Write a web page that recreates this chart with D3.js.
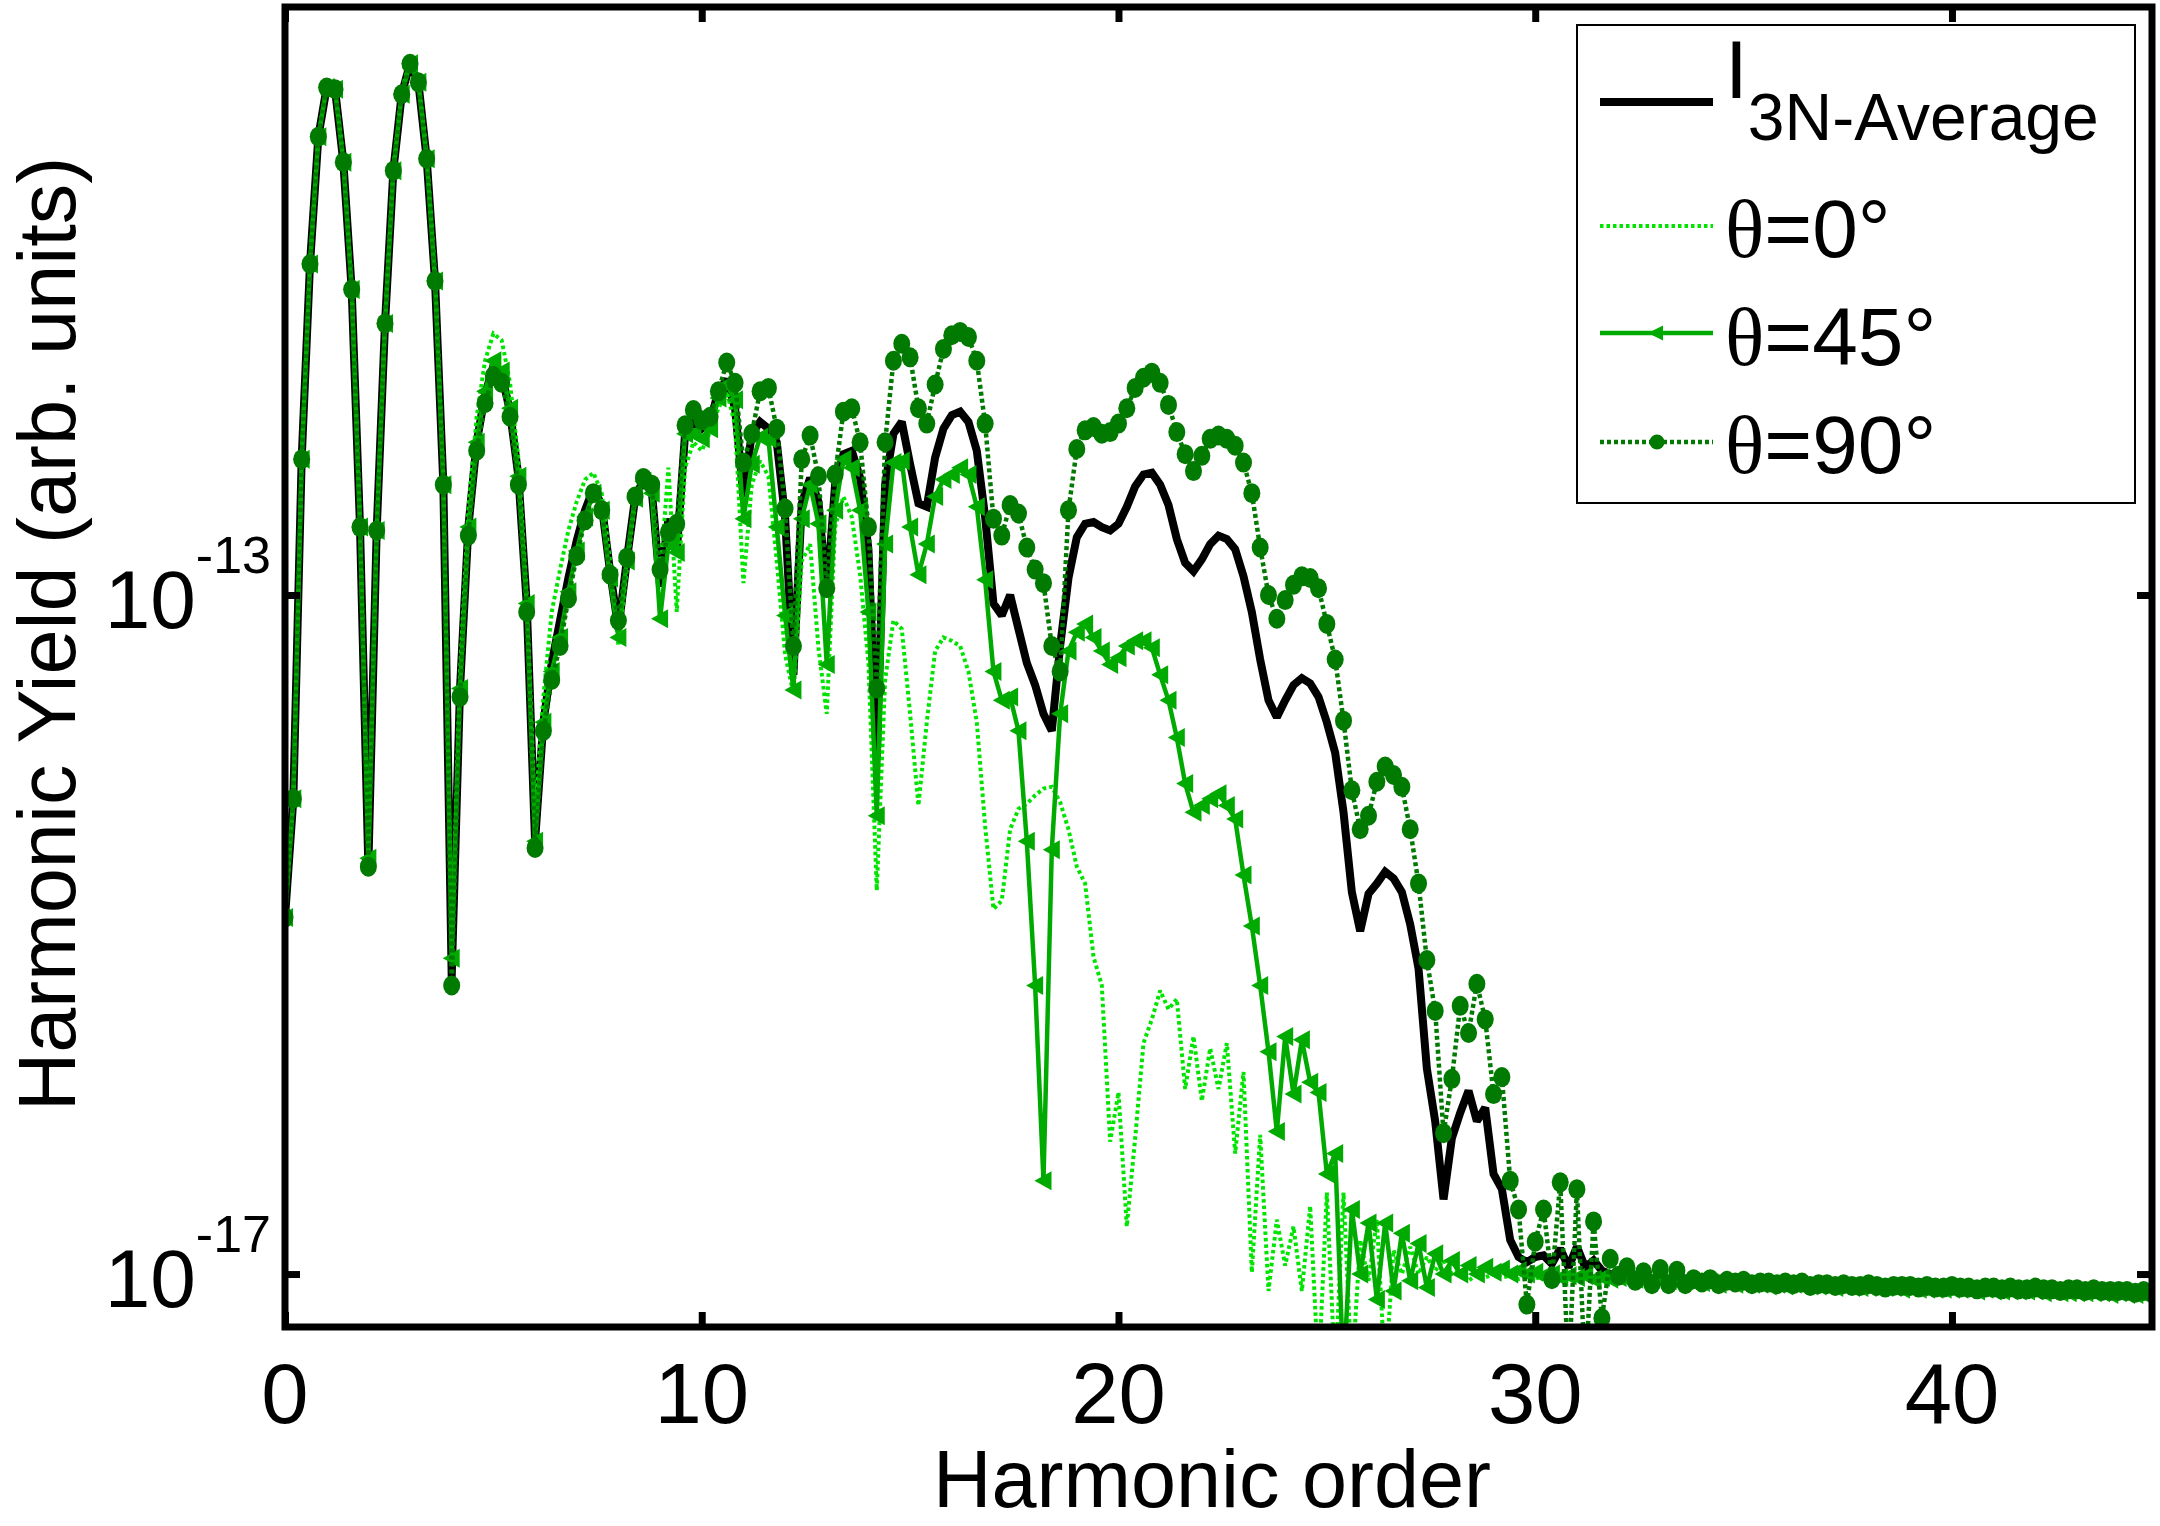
<!DOCTYPE html>
<html><head><meta charset="utf-8">
<script src="https://cdn.jsdelivr.net/npm/d3@7"></script>
<style>body{margin:0;background:#fff}svg{display:block}</style>
</head><body>
<svg id="chart" width="2160" height="1526"></svg>
<script>
// ---------------- data ----------------
const harmonicStep = 0.2;            // sampling of the harmonic-order axis
const xTickValues = [0, 10, 20, 30, 40];
const yTickExponents = [-13, -17];
const legendLabels = ["I", "θ=0°", "θ=45°", "θ=90°"];

// log10 of harmonic yield, one row per harmonic order (k.0, k.2, k.4, k.6, k.8)
const logYield90 = [
 -14.9,-14.2,-12.2,-11.05,-10.3,
 -10.01,-10.02,-10.45,-11.2,-12.6,
 -14.6,-12.62,-11.4,-10.5,-10.05,
 -9.87,-9.98,-10.43,-11.15,-12.35,
 -15.3,-13.6,-12.65,-12.15,-11.87,
 -11.71,-11.75,-11.95,-12.35,-13.1,
 -14.49,-13.8,-13.5,-13.3,-13.02,
 -12.77,-12.56,-12.40,-12.5,-12.88,
 -13.15,-12.78,-12.42,-12.31,-12.35,
 -12.85,-12.63,-12.58,-12.0,-11.91,
 -11.97,-11.95,-11.8,-11.63,-11.75,
 -12.22,-12.05,-11.8,-11.78,-12.02,
 -12.49,-13.3,-12.2,-12.06,-12.3,
 -12.96,-12.29,-11.92,-11.9,-12.1,
 -12.6,-13.55,-12.1,-11.62,-11.52,
 -11.6,-11.9,-11.99,-11.76,-11.55,
 -11.47,-11.45,-11.48,-11.62,-11.99,
 -12.55,-12.65,-12.47,-12.52,-12.72,
 -12.85,-12.93,-13.3,-13.45,-12.5,
 -12.14,-12.03,-12.01,-12.05,-12.04,
 -11.99,-11.9,-11.78,-11.72,-11.69,
 -11.75,-11.88,-12.04,-12.17,-12.27,
 -12.18,-12.08,-12.06,-12.08,-12.12,
 -12.22,-12.4,-12.72,-13.0,-13.14,
 -13.03,-12.94,-12.89,-12.9,-12.96,
 -13.17,-13.38,-13.74,-14.15,-14.38,
 -14.3,-14.1,-14.01,-14.06,-14.13,
 -14.38,-14.7,-15.15,-15.45,-16.17,
 -15.85,-15.42,-15.58,-15.29,-15.5,
 -15.94,-15.84,-16.45,-16.62,-17.18,
 -16.81,-16.62,-17.03,-16.46,-17.6,
 -16.5,-17.6,-16.69,-17.26,-16.91,
 -17.01,-16.96,-17.04,-16.99,-17.06,
 -16.97,-17.06,-16.98,-17.06,-17.03,
 -17.05,-17.03,-17.06,-17.04,-17.05,
 -17.04,-17.06,-17.05,-17.05,-17.06,
 -17.05,-17.06,-17.05,-17.07,-17.06,
 -17.06,-17.07,-17.06,-17.07,-17.07,
 -17.06,-17.07,-17.08,-17.07,-17.07,
 -17.07,-17.08,-17.07,-17.08,-17.08,
 -17.07,-17.08,-17.08,-17.09,-17.08,
 -17.08,-17.09,-17.08,-17.09,-17.09,
 -17.08,-17.09,-17.09,-17.10,-17.09,
 -17.09,-17.10,-17.09,-17.10,-17.10,
 -17.10,-17.10,-17.11,-17.10,-17.11
];

// tail (orders 32.0 - 44.8) where the other curves merge into one band
const convergedTail = [
 -17.02,-17.03,-17.03,-17.04,-17.03,
 -17.04,-17.04,-17.05,-17.04,-17.05,
 -17.05,-17.05,-17.06,-17.05,-17.06,
 -17.06,-17.06,-17.06,-17.07,-17.06,
 -17.07,-17.06,-17.07,-17.07,-17.07,
 -17.07,-17.08,-17.07,-17.08,-17.08,
 -17.08,-17.08,-17.08,-17.08,-17.09,
 -17.08,-17.09,-17.09,-17.09,-17.09,
 -17.09,-17.09,-17.09,-17.10,-17.09,
 -17.10,-17.10,-17.10,-17.10,-17.10,
 -17.10,-17.11,-17.10,-17.11,-17.11,
 -17.11,-17.11,-17.11,-17.11,-17.12,
 -17.11,-17.12,-17.12,-17.12,-17.12
];

const logYield45Head = [
 -14.9,-14.2,-12.2,-11.05,-10.3,
 -10.01,-10.02,-10.45,-11.2,-12.6,
 -14.55,-12.62,-11.4,-10.5,-10.05,
 -9.87,-9.98,-10.43,-11.15,-12.35,
 -15.14,-13.55,-12.6,-12.1,-11.8,
 -11.62,-11.68,-11.9,-12.3,-13.05,
 -14.45,-13.75,-13.45,-13.25,-12.98,
 -12.74,-12.54,-12.40,-12.5,-12.9,
 -13.25,-12.8,-12.43,-12.33,-12.4,
 -13.14,-12.7,-12.75,-12.05,-12.05,
 -12.08,-12.02,-11.84,-11.76,-11.85,
 -12.55,-12.23,-12.07,-12.08,-12.6,
 -13.12,-13.56,-12.55,-12.35,-12.58,
 -13.41,-12.50,-12.2,-12.25,-12.5,
 -13.1,-14.30,-12.7,-12.22,-12.21,
 -12.6,-12.88,-12.7,-12.42,-12.32,
 -12.29,-12.25,-12.29,-12.48,-12.91,
 -13.45,-13.62,-13.6,-13.8,-14.45,
 -15.3,-16.45,-14.5,-13.7,-13.33,
 -13.22,-13.17,-13.25,-13.33,-13.41,
 -13.37,-13.3,-13.27,-13.27,-13.31,
 -13.47,-13.62,-13.84,-14.11,-14.28,
 -14.24,-14.2,-14.17,-14.24,-14.32,
 -14.65,-14.95,-15.3,-15.69,-16.16,
 -15.6,-15.94,-15.62,-15.87,-15.93,
 -16.41,-16.29,-17.6,-16.62,-17.0,
 -16.7,-17.15,-16.70,-17.1,-16.76,
 -17.04,-16.82,-17.08,-16.88,-17.0,
 -16.92,-17.0,-16.95,-17.0,-16.96,
 -16.99,-16.97,-17.0,-16.98,-17.0,
 -16.99,-17.01,-17.0,-17.02,-17.01,
 -17.02,-17.01,-17.03,-17.02,-17.03
];

const logYield0Head = [
 -14.9,-14.2,-12.2,-11.05,-10.3,
 -10.0,-10.0,-10.43,-11.18,-12.55,
 -14.55,-12.6,-11.38,-10.48,-10.03,
 -9.85,-9.96,-10.4,-11.1,-12.3,
 -15.1,-13.45,-12.5,-11.95,-11.62,
 -11.46,-11.5,-11.75,-12.2,-13.0,
 -14.3,-13.6,-13.1,-12.85,-12.62,
 -12.45,-12.32,-12.28,-12.4,-12.8,
 -13.3,-12.85,-12.45,-12.3,-12.4,
 -12.9,-12.25,-13.1,-12.25,-12.1,
 -12.15,-12.04,-11.9,-11.8,-12.0,
 -12.93,-12.35,-12.21,-12.3,-12.8,
 -13.35,-13.58,-12.8,-12.7,-13.31,
 -13.70,-12.6,-12.42,-12.54,-12.88,
 -13.4,-14.74,-13.5,-13.15,-13.2,
 -13.7,-14.24,-13.75,-13.33,-13.25,
 -13.27,-13.3,-13.45,-13.75,-14.36,
 -14.85,-14.8,-14.38,-14.26,-14.23,
 -14.18,-14.14,-14.13,-14.22,-14.38,
 -14.6,-14.7,-15.13,-15.3,-16.22,
 -15.93,-16.72,-16.2,-15.64,-15.5,
 -15.33,-15.44,-15.38,-15.91,-15.6,
 -15.98,-15.67,-15.91,-15.64,-16.29,
 -15.81,-16.99,-16.18,-17.10,-16.68,
 -16.95,-16.72,-17.10,-16.6,-17.6,
 -16.52,-17.6,-16.52,-17.6,-16.8,
 -17.04,-16.68,-17.6,-16.86,-17.0,
 -16.84,-17.0,-16.9,-16.98,-16.92,
 -17.0,-16.98,-17.04,-17.0,-17.02,
 -17.0,-17.02,-17.01,-17.03,-17.02,
 -17.02,-17.03,-17.02,-17.03,-17.03,
 -17.03,-17.02,-17.03,-17.03,-17.03
];

const logYieldAverageHead = [
 -14.9,-14.2,-12.2,-11.05,-10.3,
 -10.01,-10.02,-10.45,-11.2,-12.6,
 -14.6,-12.62,-11.4,-10.5,-10.05,
 -9.87,-9.98,-10.43,-11.15,-12.35,
 -15.25,-13.55,-12.6,-12.1,-11.82,
 -11.65,-11.7,-11.92,-12.3,-13.05,
 -14.45,-13.75,-13.4,-13.15,-12.9,
 -12.68,-12.5,-12.37,-12.47,-12.86,
 -13.2,-12.8,-12.43,-12.32,-12.38,
 -12.95,-12.55,-12.75,-12.05,-11.98,
 -12.02,-11.98,-11.8,-11.73,-11.9,
 -12.42,-12.05,-11.98,-12.02,-12.1,
 -12.54,-13.47,-12.46,-12.31,-12.45,
 -13.0,-12.35,-12.17,-12.15,-12.31,
 -12.73,-13.97,-12.35,-12.05,-11.98,
 -12.23,-12.46,-12.48,-12.19,-12.02,
 -11.94,-11.92,-11.98,-12.15,-12.54,
 -13.05,-13.12,-13.0,-13.2,-13.4,
 -13.53,-13.7,-13.8,-13.3,-12.9,
 -12.66,-12.58,-12.57,-12.6,-12.62,
 -12.58,-12.48,-12.36,-12.29,-12.28,
 -12.35,-12.47,-12.67,-12.81,-12.86,
 -12.79,-12.7,-12.65,-12.67,-12.73,
 -12.89,-13.1,-13.38,-13.62,-13.72,
 -13.62,-13.53,-13.49,-13.52,-13.6,
 -13.75,-13.93,-14.28,-14.75,-14.98,
 -14.76,-14.7,-14.63,-14.67,-14.75,
 -14.94,-15.2,-15.79,-16.1,-16.56,
 -16.2,-16.05,-15.92,-16.1,-16.02,
 -16.41,-16.5,-16.8,-16.9,-16.93,
 -16.9,-16.89,-16.94,-16.85,-16.96,
 -16.84,-16.96,-16.92,-16.98,-17.0
];

const logYield45 = logYield45Head.concat(convergedTail);
const logYield0 = logYield0Head.concat(convergedTail);
const logYieldAverage = logYieldAverageHead.concat(convergedTail);

// ---------------- chart ----------------
const FONT = "'Liberation Sans', Arial, Helvetica, sans-serif";
const harmonics = logYield90.map((_, i) => +(i * harmonicStep).toFixed(1));

const plot = {left: 285, right: 2152, top: 7, bottom: 1327};
const x = d3.scaleLinear().domain([0, 44.8]).range([plot.left, plot.right]);
const y = d3.scaleLog().domain([Math.pow(10, -17.312), Math.pow(10, -9.536)]).range([plot.bottom, plot.top]);

const svg = d3.select("#chart");
svg.append("rect").attr("width", 2160).attr("height", 1526).attr("fill", "#fff");

svg.append("defs").append("clipPath").attr("id", "plotClip")
  .append("rect")
  .attr("x", plot.left).attr("y", plot.top)
  .attr("width", plot.right - plot.left).attr("height", plot.bottom - plot.top);

const series = [
  {values: logYieldAverage, color: "#000000", width: 8,   dash: null,    marker: null},
  {values: logYield0,       color: "#00e400", width: 4,   dash: "3.5,3", marker: null},
  {values: logYield45,      color: "#00aa00", width: 4.5, dash: null,    marker: "tri"},
  {values: logYield90,      color: "#007a00", width: 4.5, dash: "4,3",   marker: "circle"}
];

const line = d3.line()
  .x((d, i) => x(harmonics[i]))
  .y(d => y(Math.pow(10, d)));

const triPath = "M-9,0L8,-9.5L8,9.5Z";

const dataG = svg.append("g").attr("clip-path", "url(#plotClip)");
series.forEach(s => {
  const g = dataG.append("g");
  g.append("path")
    .attr("d", line(s.values))
    .attr("fill", "none")
    .attr("stroke", s.color)
    .attr("stroke-width", s.width)
    .attr("stroke-linejoin", "miter")
    .attr("stroke-miterlimit", 2)
    .attr("stroke-dasharray", s.dash);
  if (s.marker === "circle") {
    g.selectAll("ellipse").data(s.values).join("ellipse")
      .attr("cx", (d, i) => x(harmonics[i]))
      .attr("cy", d => y(Math.pow(10, d)))
      .attr("rx", 8.5).attr("ry", 10)
      .attr("fill", s.color);
  } else if (s.marker === "tri") {
    g.selectAll("path.m").data(s.values).join("path")
      .attr("class", "m")
      .attr("d", triPath)
      .attr("transform", (d, i) => `translate(${x(harmonics[i])},${y(Math.pow(10, d))})`)
      .attr("fill", s.color);
  }
});

// axes: inward ticks on all four sides
const tickLen = 15;
const yTickValues = yTickExponents.map(e => Math.pow(10, e));
function styleAxis(g) {
  g.select(".domain").remove();
  g.selectAll(".tick line").attr("stroke", "#000").attr("stroke-width", 7);
  g.selectAll(".tick text").remove();
}
svg.append("g").attr("transform", `translate(0,${plot.bottom})`)
  .call(d3.axisBottom(x).tickValues(xTickValues).tickSize(-tickLen).tickSizeOuter(0)).call(styleAxis);
svg.append("g").attr("transform", `translate(0,${plot.top})`)
  .call(d3.axisTop(x).tickValues(xTickValues).tickSize(-tickLen).tickSizeOuter(0)).call(styleAxis);
svg.append("g").attr("transform", `translate(${plot.left},0)`)
  .call(d3.axisLeft(y).tickValues(yTickValues).tickSize(-tickLen).tickSizeOuter(0)).call(styleAxis);
svg.append("g").attr("transform", `translate(${plot.right},0)`)
  .call(d3.axisRight(y).tickValues(yTickValues).tickSize(-tickLen).tickSizeOuter(0)).call(styleAxis);

// frame
svg.append("rect")
  .attr("x", plot.left).attr("y", plot.top)
  .attr("width", plot.right - plot.left).attr("height", plot.bottom - plot.top)
  .attr("fill", "none").attr("stroke", "#000").attr("stroke-width", 7);

// x tick labels
svg.append("g").selectAll("text").data(xTickValues).join("text")
  .attr("x", d => x(d)).attr("y", 1423)
  .attr("text-anchor", "middle")
  .attr("font-family", FONT).attr("font-size", 85)
  .text(d => d);

// y tick labels 10^e
yTickExponents.forEach(e => {
  const t = svg.append("text")
    .attr("x", 271).attr("y", y(Math.pow(10, e)) + 33)
    .attr("text-anchor", "end")
    .attr("font-family", FONT).attr("font-size", 82);
  t.append("tspan").text("10");
  t.append("tspan").attr("dy", -55).attr("font-size", 52).text(String(e));
});

// axis titles
svg.append("text")
  .attr("x", 1212).attr("y", 1507)
  .attr("text-anchor", "middle")
  .attr("font-family", FONT).attr("font-size", 81)
  .text("Harmonic order");
svg.append("text")
  .attr("transform", "translate(75,634) rotate(-90)")
  .attr("text-anchor", "middle")
  .attr("font-family", FONT).attr("font-size", 81)
  .text("Harmonic Yield (arb. units)");

// legend
const lg = svg.append("g");
lg.append("rect").attr("x", 1577).attr("y", 25).attr("width", 558).attr("height", 478)
  .attr("fill", "#fff").attr("stroke", "#000").attr("stroke-width", 2);
const legendRows = [102, 226, 333, 442];
const textBaselines = [98, 257, 365, 473];
series.forEach((s, i) => {
  const yy = legendRows[i];
  lg.append("line").attr("x1", 1600).attr("x2", 1713).attr("y1", yy).attr("y2", yy)
    .attr("stroke", s.color).attr("stroke-width", s.width)
    .attr("stroke-dasharray", s.dash);
  if (s.marker === "circle") {
    lg.append("circle").attr("cx", 1657).attr("cy", yy).attr("r", 7.5).attr("fill", s.color);
  } else if (s.marker === "tri") {
    lg.append("path").attr("d", "M-8,0L7,-7.5L7,7.5Z").attr("transform", `translate(1656,${yy})`).attr("fill", s.color);
  }
  const t = lg.append("text").attr("x", 1725).attr("y", textBaselines[i])
    .attr("font-family", FONT).attr("font-size", 82);
  if (i === 0) {
    t.append("tspan").text(legendLabels[0]);
    t.append("tspan").attr("dy", 42).attr("font-size", 66).text("3N-Average");
  } else {
    const lab = legendLabels[i];
    t.append("tspan").attr("font-family", "'Liberation Serif', 'Times New Roman', serif").text(lab[0]);
    t.append("tspan").text(lab.slice(1));
  }
});
</script>
</body></html>
